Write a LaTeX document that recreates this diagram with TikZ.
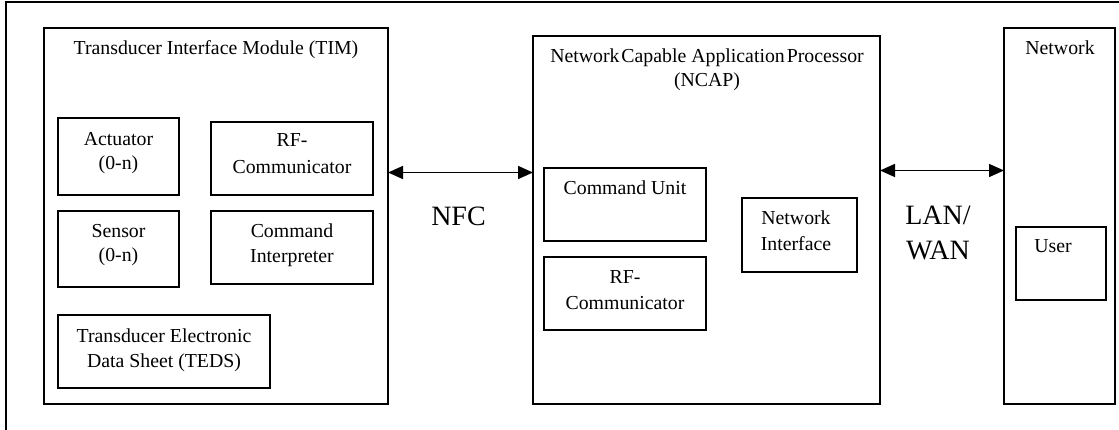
\documentclass[tikz,border=0pt]{standalone}
\usepackage{fontspec}
\setmainfont{Liberation Serif}
\usetikzlibrary{arrows.meta}
\begin{document}
\begin{tikzpicture}[x=1pt,y=-1pt,
  box/.style={draw, line width=1.5pt, inner sep=0pt, outer sep=0pt, anchor=north west},
  lbl/.style={font=\fontsize{19.8}{24}\selectfont, anchor=base, inner sep=0pt},
  biglbl/.style={font=\fontsize{28}{36}\selectfont, anchor=base, inner sep=0pt},
  link/.style={line width=1.5pt, {Triangle[length=15pt,width=13pt]}-{Triangle[length=15pt,width=13pt]}}]
\useasboundingbox (0,0) rectangle (1119,430);

% outer frame (left and top edges)
\coordinate (frameBL) at (6,432);
\coordinate (frameTL) at (6,2);
\coordinate (frameTR) at (1121,2);
\draw[line width=1.3pt] (frameBL) -- (frameTL) -- (frameTR);

% Transducer Interface Module
\node[box, minimum width=344pt, minimum height=376pt] (tim) at (44,28) {};
\node[lbl] (timt) at (216,55) {Transducer Interface Module (TIM)};

\node[box, minimum width=121pt, minimum height=77pt] (act) at (58,118) {};
\node[lbl] (act1) at (118.5,146) {Actuator};
\node[lbl] (act2) at (118.5,170) {(0-n)};

\node[box, minimum width=162pt, minimum height=73pt] (rf1) at (211,122) {};
\node[lbl] (rf1a) at (292,147) {RF-};
\node[lbl] (rf1b) at (292,174) {Communicator};

\node[box, minimum width=121pt, minimum height=76pt] (sen) at (58,211) {};
\node[lbl] (sen1) at (118.5,238) {Sensor};
\node[lbl] (sen2) at (118.5,262) {(0-n)};

\node[box, minimum width=162pt, minimum height=73pt] (cmdi) at (211,211) {};
\node[lbl] (cmdi1) at (292,238) {Command};
\node[lbl] (cmdi2) at (292,263) {Interpreter};

\node[box, minimum width=212pt, minimum height=73pt] (teds) at (58,315) {};
\node[lbl] (teds1) at (164,342) {Transducer Electronic};
\node[lbl] (teds2) at (164,367) {Data Sheet (TEDS)};

% Network Capable Application Processor
\node[box, minimum width=347pt, minimum height=368pt] (ncap) at (533,36) {};
\node[lbl] (ncapt1) at (707,63) {Network\hspace{-3pt} Capable Application\hspace{-3pt} Processor};
\node[lbl] (ncapt2) at (707,87) {(NCAP)};

\node[box, minimum width=162pt, minimum height=73pt] (cu) at (544,168) {};
\node[lbl] (cu1) at (625,195) {Command Unit};

\node[box, minimum width=162pt, minimum height=73pt] (rf2) at (544,257) {};
\node[lbl] (rf2a) at (625,284) {RF-};
\node[lbl] (rf2b) at (625,309) {Communicator};

\node[box, minimum width=115pt, minimum height=74pt] (ni) at (742,198) {};
\node[lbl] (ni1) at (796,225) {Network};
\node[lbl] (ni2) at (796,251) {Interface};

% Network
\node[box, minimum width=111pt, minimum height=376pt] (net) at (1004,28) {};
\node[lbl] (nett) at (1060,55) {Network};

\node[box, minimum width=90pt, minimum height=73pt] (user) at (1016,227) {};
\node[lbl] (user1) at (1053,253) {User};

% links
\coordinate (nfcrow) at (0,172.5);
\coordinate (lanrow) at (0,170.5);
\draw[link] (tim.east |- nfcrow) -- (ncap.west |- nfcrow);
\draw[link] (ncap.east |- lanrow) -- (net.west |- lanrow);
\node[biglbl] (nfc) at (458.5,226) {NFC};
\node[biglbl] (lan1) at (938,225) {LAN/};
\node[biglbl] (lan2) at (938,260) {WAN};
\end{tikzpicture}
\end{document}
